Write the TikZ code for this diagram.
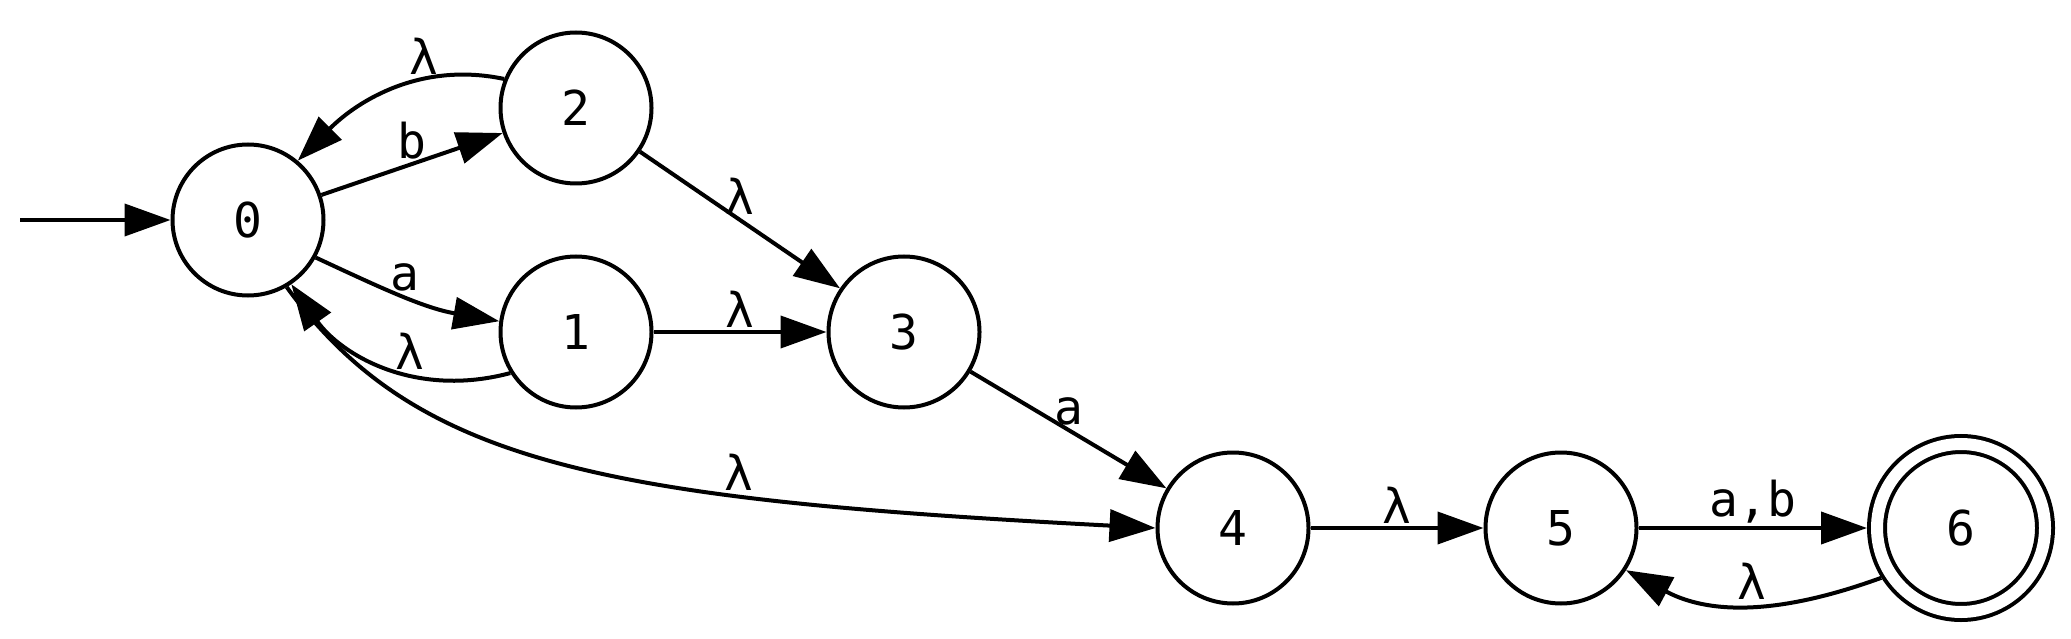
\documentclass[tikz,border=0pt]{standalone}
\usepackage{fontspec}
\newfontfamily\statefont{DejaVu Sans Mono}
\usetikzlibrary{arrows.meta}

\begin{document}
\begin{tikzpicture}[x=1pt, y=1pt,
    statenode/.style={circle, draw, line width=4pt, minimum size=151pt, inner sep=0pt, font=\statefont\fontsize{48}{48}\selectfont},
    acceptnode/.style={statenode, minimum size=168pt, double, double distance=12pt, outer sep=10pt},
    trans/.style={line width=4pt, -{Triangle[length=46pt, width=32pt]}},
    lbl/.style={above, inner sep=3pt, font=\statefont\fontsize{48}{48}\selectfont}]
    \useasboundingbox (0,0) rectangle (2071,638);
    \node[statenode] (n0) at (248,418) {0};
    \node[statenode] (n2) at (576,530) {2};
    \node[statenode] (n1) at (576,306) {1};
    \node[statenode] (n3) at (904,306) {3};
    \node[statenode] (n4) at (1233,110) {4};
    \node[statenode] (n5) at (1561,110) {5};
    \node[acceptnode] (n6) at (1961,110) {6};
    \coordinate (start) at (20,418);
    \draw[trans] (start) -- (n0);
    \draw[trans] (n0) -- node[lbl] {b} (n2);
    \draw[trans] (n2.158) to[out=168, in=45, out distance=85pt, in distance=85pt] node[lbl, pos=0.35] {λ} (n0.50);
    \draw[trans] (n0.-29) to[out=-25, in=170] node[lbl] {a} (n1.172);
    \draw[trans] (n1.-148) to[out=195, in=-55, out distance=100pt, in distance=85pt] node[lbl, pos=0.38] {λ} (n0.-56);
    \draw[trans] (n0.-60) to[out=-54, in=177, out distance=220pt, in distance=550pt] node[lbl, pos=0.69] {λ} (n4.west);
    \draw[trans] (n2) -- node[lbl] {λ} (n3);
    \draw[trans] (n1) -- node[lbl] {λ} (n3);
    \draw[trans] (n3) -- node[lbl] {a} (n4);
    \draw[trans] (n4) -- node[lbl] {λ} (n5);
    \draw[trans] (n5) -- node[lbl] {a,b} (n6);
    \draw[trans] (n6.-148) to[out=200, in=-28] node[lbl] {λ} (n5.-33);
\end{tikzpicture}
\end{document}
